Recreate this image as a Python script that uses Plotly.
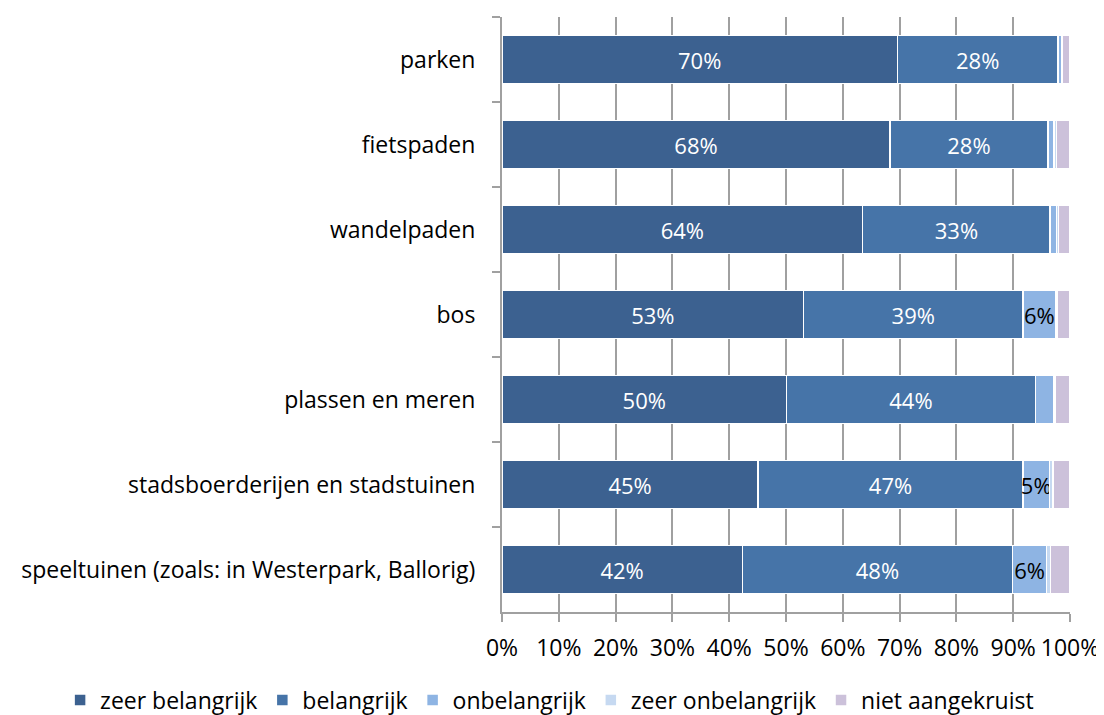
import plotly.graph_objects as go

categories = ['parken', 'fietspaden', 'wandelpaden', 'bos', 'plassen en meren',
              'stadsboerderijen en stadstuinen', 'speeltuinen (zoals: in Westerpark, Ballorig)']

series_names = ['zeer belangrijk', 'belangrijk', 'onbelangrijk', 'zeer onbelangrijk', 'niet aangekruist']

zeer_belangrijk = [69.6, 68.3, 63.5, 53.1, 50.1, 45.1, 42.3]
belangrijk = [28.3, 27.8, 33.0, 38.6, 43.8, 46.6, 47.6]
onbelangrijk = [0.6, 1.1, 1.1, 5.8, 3.2, 4.7, 6.0]
zeer_onbelangrijk = [0.2, 0.4, 0.4, 0.2, 0.3, 0.6, 0.7]
niet_aangekruist = [1.3, 2.4, 2.0, 2.3, 2.6, 3.0, 3.4]

x_ticks = list(range(0, 101, 10))
x_ticklabels = [f'{v}%' for v in x_ticks]

colors = ['#3C6190', '#4674A8', '#8EB4E3', '#C6D9F1', '#CCC1DA']
text_colors = ['white', 'white', 'black', 'black', 'black']

fig = go.Figure()

all_series = [zeer_belangrijk, belangrijk, onbelangrijk, zeer_onbelangrijk, niet_aangekruist]
for name, vals, col, tcol in zip(series_names, all_series, colors, text_colors):
    labels = [f'{round(v)}%' if v >= 4.5 else '' for v in vals]
    fig.add_trace(go.Bar(
        y=categories, x=vals, name=name, orientation='h',
        marker=dict(color=col, line=dict(color='white', width=1.5)),
        text=labels, textposition='inside', insidetextanchor='middle', textangle=0,
        textfont=dict(color=tcol, size=22),
    ))

# page body has an 8px margin, so the figure is 8px smaller than the window
fig.update_layout(
    barmode='stack',
    bargap=0.435,
    width=1096, height=707,
    plot_bgcolor='white', paper_bgcolor='white',
    font=dict(family='Open Sans, Liberation Sans, sans-serif', size=23, color='black'),
    margin=dict(l=494, r=34, t=9, b=103, autoexpand=False),
    uniformtext=dict(minsize=22, mode='show'),
    legend=dict(orientation='h', x=-0.778, xanchor='left', y=-0.148, yanchor='middle',
                font=dict(size=23), traceorder='normal'),
    xaxis=dict(range=[0, 100], tickvals=x_ticks, ticktext=x_ticklabels,
               showgrid=True, gridcolor='#A0A0A0', gridwidth=2,
               ticks='outside', ticklen=8, tickcolor='#A0A0A0', tickwidth=2,
               showline=True, linecolor='#A0A0A0', linewidth=2,
               ticklabelstandoff=6, zeroline=False, fixedrange=True),
    yaxis=dict(autorange='reversed', ticks='outside', tickson='boundaries',
               ticklen=8, tickcolor='#A0A0A0', tickwidth=2,
               showline=True, linecolor='#A0A0A0', linewidth=2,
               ticklabelstandoff=20, fixedrange=True),
)

fig.write_html('out.html', config=dict(displayModeBar=False))
